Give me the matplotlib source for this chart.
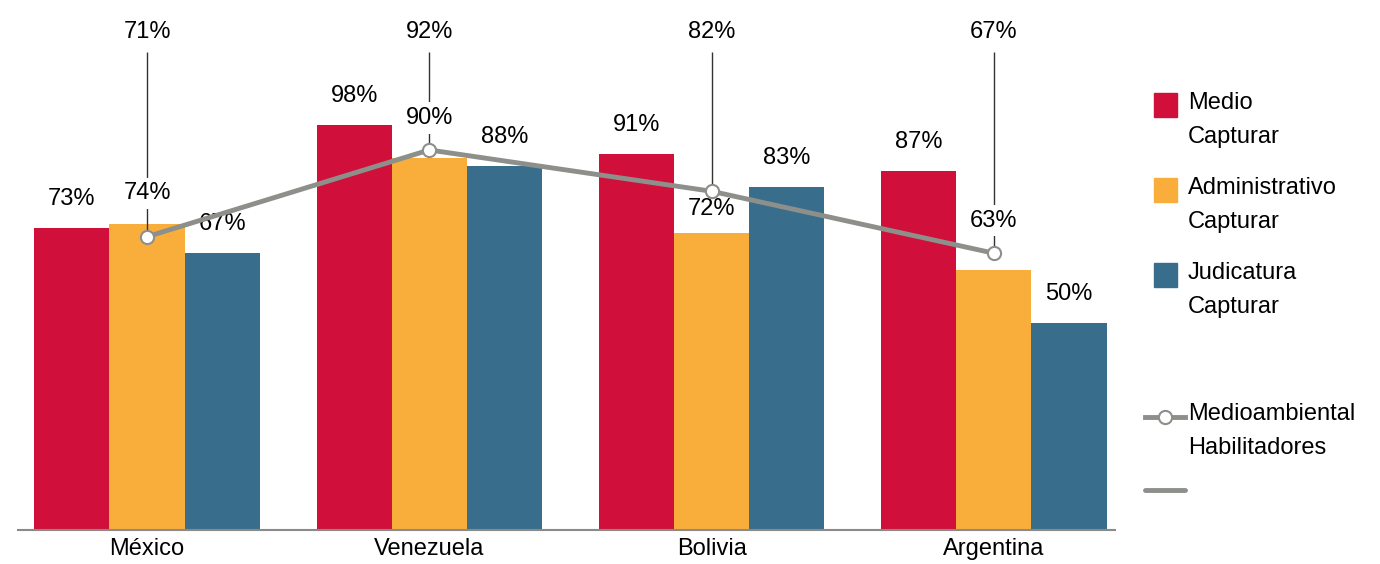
import numpy as np
import matplotlib.pyplot as plt
from matplotlib.patches import Rectangle
from matplotlib.lines import Line2D
from matplotlib.transforms import Affine2D

plt.rcParams['font.family'] = ['Liberation Sans', 'DejaVu Sans']

countries = ['México', 'Venezuela', 'Bolivia', 'Argentina']
medio = [73, 98, 91, 87]
administrativo = [74, 90, 72, 63]
judicatura = [67, 88, 83, 50]
habilitadores = [71, 92, 82, 67]

series_names = ['Medio\nCapturar', 'Administrativo\nCapturar', 'Judicatura\nCapturar']
line_name = 'Medioambiental\nHabilitadores'
colors = ['#d0103a', '#f9ae3b', '#386e8c']
line_color = '#8d8f8a'

# the orange labels get nudged (px) so they stay clear of the line
admin_label_dy = [31, 40, 24, 49]

FS = 17
W, H = 1380, 564
fig = plt.figure(figsize=(W / 100, H / 100), dpi=100)
ax = fig.add_axes([18 / W, 34 / H, (1115 - 18) / W, 530 / H])

x = np.arange(len(countries))
bw = 0.266
groups = [medio, administrativo, judicatura]
for i, (vals, c) in enumerate(zip(groups, colors)):
    xs = x + (i - 1) * bw
    ax.bar(xs, vals, width=bw, color=c, zorder=2)
    for j, (xx, v) in enumerate(zip(xs, vals)):
        if i == 1:
            ax.annotate(f'{v}%', (xx, v), xytext=(0, admin_label_dy[j] * 0.72),
                        textcoords='offset points', ha='center', va='center',
                        fontsize=FS, zorder=4,
                        bbox=dict(boxstyle='square,pad=0.2', fc='white', ec='none'))
        else:
            ax.annotate(f'{v}%', (xx, v), xytext=(0, 29 * 0.72),
                        textcoords='offset points', ha='center', va='center',
                        fontsize=FS, zorder=4)

# leader lines from each point up to its value at the top
ax.vlines(x, habilitadores, 115.7, color='#333333', lw=1, zorder=3)
for xx, v in zip(x, habilitadores):
    ax.text(xx, 120.6, f'{v}%', ha='center', va='center', fontsize=FS)

ax.plot(x, habilitadores, color=line_color, lw=3.5, marker='o', ms=9.5,
        mfc='white', mec=line_color, mew=1.5, zorder=5)

ax.set_xlim(-0.457, 3.429)
ax.set_ylim(0, 128.3)
ax.set_xticks(x, countries, fontsize=FS)
ax.set_yticks([])
ax.tick_params(axis='x', length=0, pad=6)
for s in ['left', 'right', 'top']:
    ax.spines[s].set_visible(False)
ax.spines['bottom'].set_color('#8a8a8a')
ax.spines['bottom'].set_linewidth(1.5)

# legend built by hand in pixel coordinates (origin top-left)
pix = Affine2D().scale(1 / W, -1 / H).translate(0, 1) + fig.transFigure
for name, c, top in zip(series_names, colors, [93, 178, 263]):
    fig.add_artist(Rectangle((1154, top), 23, 24, color=c, transform=pix))
    fig.text(1188, top + 27, name, transform=pix, va='center',
             fontsize=FS, linespacing=1.75)
fig.add_artist(Line2D([1145, 1165, 1185], [417, 417, 417], transform=pix,
                      color=line_color, lw=3.5, marker='o', ms=9.5, markevery=[1],
                      mfc='white', mec=line_color, mew=1.5))
fig.text(1188, 431, line_name, transform=pix, va='center',
         fontsize=FS, linespacing=1.75)
fig.add_artist(Line2D([1145, 1185], [490, 490], transform=pix,
                      color=line_color, lw=3.5, solid_capstyle='round'))

fig.savefig('out.png', dpi=100)
